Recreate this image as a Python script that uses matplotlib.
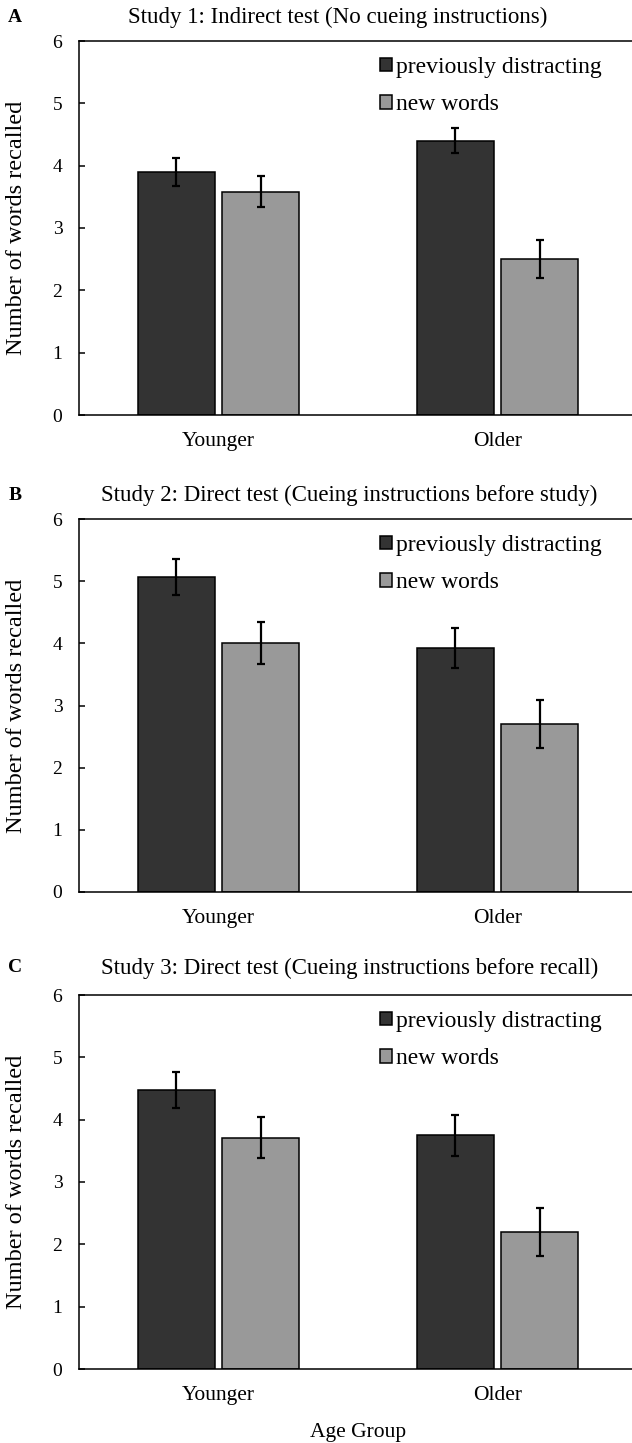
import matplotlib
matplotlib.use("Agg")
import matplotlib.pyplot as plt
import numpy as np

plt.rcParams['font.family'] = ['Liberation Serif', 'DejaVu Serif']

groups = ["Younger", "Older"]
series = ["previously distracting", "new words"]
titles = ["Study 1: Indirect test (No cueing instructions)",
          "Study 2: Direct test (Cueing instructions before study)",
          "Study 3: Direct test (Cueing instructions before recall)"]
letters = ["A", "B", "C"]

prev_means = [[3.9, 4.4], [5.07, 3.92], [4.47, 3.75]]
prev_err = [[0.23, 0.2], [0.29, 0.32], [0.29, 0.33]]
new_means = [[3.58, 2.5], [4.0, 2.7], [3.71, 2.2]]
new_err = [[0.25, 0.3], [0.34, 0.39], [0.33, 0.39]]

W, H = 632, 1443
fig = plt.figure(figsize=(W / 100, H / 100), dpi=100)

ax_left = 79
ax_right = 637
tops = [41, 519, 995]
bottoms = [415, 892, 1369]
title_x = [338, 349, 350]
title_y = [17, 495, 968]

dark = '#333333'
light = '#999999'
bw = 0.275
off = 0.151

for i in range(3):
    ax = fig.add_axes([ax_left / W, 1 - bottoms[i] / H,
                       (ax_right - ax_left) / W, (bottoms[i] - tops[i]) / H])
    x = np.arange(len(groups))
    ax.bar(x - off, prev_means[i], bw, color=dark, edgecolor='black', linewidth=1.1,
           label=series[0], zorder=2)
    ax.bar(x + off, new_means[i], bw, color=light, edgecolor='black', linewidth=1.1,
           label=series[1], zorder=2)
    ax.errorbar(x - off, prev_means[i], yerr=prev_err[i], fmt='none', ecolor='black',
                elinewidth=1.6, capsize=3, capthick=1.6, zorder=3)
    ax.errorbar(x + off, new_means[i], yerr=new_err[i], fmt='none', ecolor='black',
                elinewidth=1.6, capsize=3, capthick=1.6, zorder=3)
    ax.set_xlim(-0.5, 1.5)
    ax.set_ylim(0, 6)
    ax.set_yticks(range(0, 7))
    ax.set_xticks(x)
    ax.set_xticklabels(groups)
    ax.tick_params(axis='y', direction='in', length=4.5, width=1.1, pad=12, labelsize=14)
    ax.tick_params(axis='x', length=0, pad=12, labelsize=15.5)
    for s in ['left', 'top', 'bottom']:
        ax.spines[s].set_linewidth(1.1)
    ax.spines['right'].set_visible(False)
    ax.legend(loc='upper left', bbox_to_anchor=(0.539, 0.958), frameon=False,
              fontsize=17, handlelength=0.5, handleheight=0.5, handletextpad=0.2,
              labelspacing=0.7, borderpad=0, borderaxespad=0)
    fig.text(title_x[i] / W, 1 - title_y[i] / H, titles[i], ha='center', va='center',
             fontsize=16.5)
    fig.text(15 / W, 1 - title_y[i] / H, letters[i], ha='center', va='center',
             fontsize=14, fontweight='bold')
    fig.text(17 / W, 1 - (tops[i] + bottoms[i]) / 2 / H, "Number of words recalled",
             rotation=90, ha='center', va='center', fontsize=17.5)

fig.text(358 / W, 1 - 1432 / H, "Age Group", ha='center', va='center', fontsize=15.5)

fig.savefig("out.png", dpi=100)
